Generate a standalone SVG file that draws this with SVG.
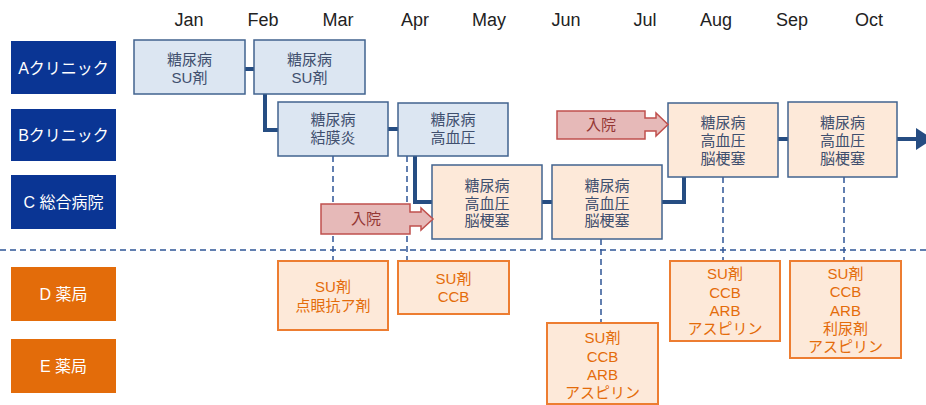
<svg xmlns="http://www.w3.org/2000/svg" width="926" height="405" viewBox="0 0 926 405">
<style>
.month{font-family:"Liberation Sans",sans-serif;font-size:18px;fill:#222;text-anchor:middle}
.lbl{fill:#0a3594}
.lblo{fill:#e36c0a}
.lt{font-family:"Liberation Sans","Noto Sans CJK JP",sans-serif;font-size:16px;fill:#fff;text-anchor:middle}
.bb{fill:#dce6f2;stroke:#41638f;stroke-width:1.5}
.pb{fill:#fde9d9;stroke:#41638f;stroke-width:1.5}
.ob{fill:#fde9d9;stroke:#ed7d31;stroke-width:2}
.bt{font-family:"Liberation Sans","Noto Sans CJK JP",sans-serif;font-size:15px;fill:#3f4f6e;text-anchor:middle}
.ot{font-family:"Liberation Sans","Noto Sans CJK JP",sans-serif;font-size:15px;fill:#e46c0a;text-anchor:middle}
.con{fill:none;stroke:#264d82;stroke-width:4}
.dash{fill:none;stroke:#2f5597;stroke-width:1.5;stroke-dasharray:6 4}
.adm{fill:#e6b9b8;stroke:#c0504d;stroke-width:1.5}
.at{font-family:"Liberation Sans","Noto Sans CJK JP",sans-serif;font-size:15px;fill:#953735;text-anchor:middle}
</style>
<g id="months">
<text class="month" x="189" y="26">Jan</text>
<text class="month" x="263" y="26">Feb</text>
<text class="month" x="338" y="26">Mar</text>
<text class="month" x="415" y="26">Apr</text>
<text class="month" x="489" y="26">May</text>
<text class="month" x="566" y="26">Jun</text>
<text class="month" x="645" y="26">Jul</text>
<text class="month" x="716" y="26">Aug</text>
<text class="month" x="792" y="26">Sep</text>
<text class="month" x="869" y="26">Oct</text>
</g>
<g id="rowA"><rect class="lbl" x="11" y="41" width="105" height="53"/><text class="lt" x="63.5" y="73.5">Aクリニック</text></g>
<g id="rowB"><rect class="lbl" x="11" y="109" width="105" height="52"/><text class="lt" x="63.5" y="140.5">Bクリニック</text></g>
<g id="rowC"><rect class="lbl" x="11" y="175" width="105" height="54"/><text class="lt" x="63.5" y="207.5">C 総合病院</text></g>
<g id="rowD"><rect class="lblo" x="11" y="267" width="105" height="54"/><text class="lt" x="63.5" y="299.5">D 薬局</text></g>
<g id="rowE"><rect class="lblo" x="11" y="339" width="105" height="54"/><text class="lt" x="63.5" y="371.5">E 薬局</text></g>

<g id="connectors">
<line class="dash" x1="0" y1="250" x2="926" y2="250"/>
<line class="dash" x1="333" y1="156" x2="333" y2="261"/>
<line class="dash" x1="407" y1="156" x2="407" y2="261"/>
<line class="dash" x1="601" y1="239" x2="601" y2="323"/>
<line class="dash" x1="723" y1="177" x2="723" y2="261"/>
<line class="dash" x1="844" y1="177" x2="844" y2="261"/>
<path class="con" d="M245 69H254"/>
<path class="con" d="M265 94V130H278"/>
<path class="con" d="M388 129H398"/>
<path class="con" d="M415 156V202H432"/>
<path class="con" d="M542 202H552"/>
<path class="con" d="M662 202H684V177"/>
<path class="con" d="M778 139H788"/>
<path class="con" d="M897 139H917"/>
<polygon points="916,128 933,139 916,150" fill="#264d82"/>
</g>

<g id="a1"><rect class="bb" x="134" y="40" width="111" height="54"/><text class="bt" x="189.5" y="65">糖尿病</text><text class="bt" x="189.5" y="83">SU剤</text></g>
<g id="a2"><rect class="bb" x="254" y="40" width="111" height="54"/><text class="bt" x="309.5" y="65">糖尿病</text><text class="bt" x="309.5" y="83">SU剤</text></g>
<g id="b1"><rect class="bb" x="278" y="102" width="110" height="54"/><text class="bt" x="333" y="125">糖尿病</text><text class="bt" x="333" y="143">結膜炎</text></g>
<g id="b2"><rect class="bb" x="398" y="103" width="110" height="53"/><text class="bt" x="453" y="125">糖尿病</text><text class="bt" x="453" y="143">高血圧</text></g>
<g id="c1"><rect class="pb" x="432" y="165" width="110" height="74"/><text class="bt" x="487" y="191">糖尿病</text><text class="bt" x="487" y="208.5">高血圧</text><text class="bt" x="487" y="226">脳梗塞</text></g>
<g id="c2"><rect class="pb" x="552" y="165" width="110" height="74"/><text class="bt" x="607" y="191">糖尿病</text><text class="bt" x="607" y="208.5">高血圧</text><text class="bt" x="607" y="226">脳梗塞</text></g>
<g id="aug"><rect class="pb" x="668" y="103" width="110" height="74"/><text class="bt" x="723" y="127.5">糖尿病</text><text class="bt" x="723" y="145.5">高血圧</text><text class="bt" x="723" y="163.5">脳梗塞</text></g>
<g id="sep"><rect class="pb" x="788" y="102" width="109" height="75"/><text class="bt" x="842.5" y="127.5">糖尿病</text><text class="bt" x="842.5" y="145.5">高血圧</text><text class="bt" x="842.5" y="163.5">脳梗塞</text></g>

<g id="adm1"><polygon class="adm" points="321,204 410,204 410,212 421,212 421,208 433,219 421,230 421,226 410,226 410,234 321,234"/><text class="at" x="366" y="224">入院</text></g>
<g id="adm2"><polygon class="adm" points="557,111 645,111 645,118 656,118 656,113 668,124.5 656,136 656,131 645,131 645,139 557,139"/><text class="at" x="601" y="130">入院</text></g>

<g id="d1"><rect class="ob" x="278" y="261" width="110" height="69"/><text class="ot" x="333" y="292">SU剤</text><text class="ot" x="333" y="311">点眼抗ア剤</text></g>
<g id="d2"><rect class="ob" x="398" y="261" width="111" height="53"/><text class="ot" x="453.5" y="284">SU剤</text><text class="ot" x="453.5" y="302">CCB</text></g>
<g id="e1"><rect class="ob" x="547" y="323" width="111" height="81"/><text class="ot" x="602.5" y="343">SU剤</text><text class="ot" x="602.5" y="362">CCB</text><text class="ot" x="602.5" y="380">ARB</text><text class="ot" x="602.5" y="398">アスピリン</text></g>
<g id="d3"><rect class="ob" x="670" y="261" width="110" height="80"/><text class="ot" x="725" y="279">SU剤</text><text class="ot" x="725" y="298">CCB</text><text class="ot" x="725" y="316">ARB</text><text class="ot" x="725" y="334">アスピリン</text></g>
<g id="d4"><rect class="ob" x="790" y="261" width="111" height="97"/><text class="ot" x="845.5" y="279">SU剤</text><text class="ot" x="845.5" y="297">CCB</text><text class="ot" x="845.5" y="316">ARB</text><text class="ot" x="845.5" y="334">利尿剤</text><text class="ot" x="845.5" y="352">アスピリン</text></g>
</svg>
